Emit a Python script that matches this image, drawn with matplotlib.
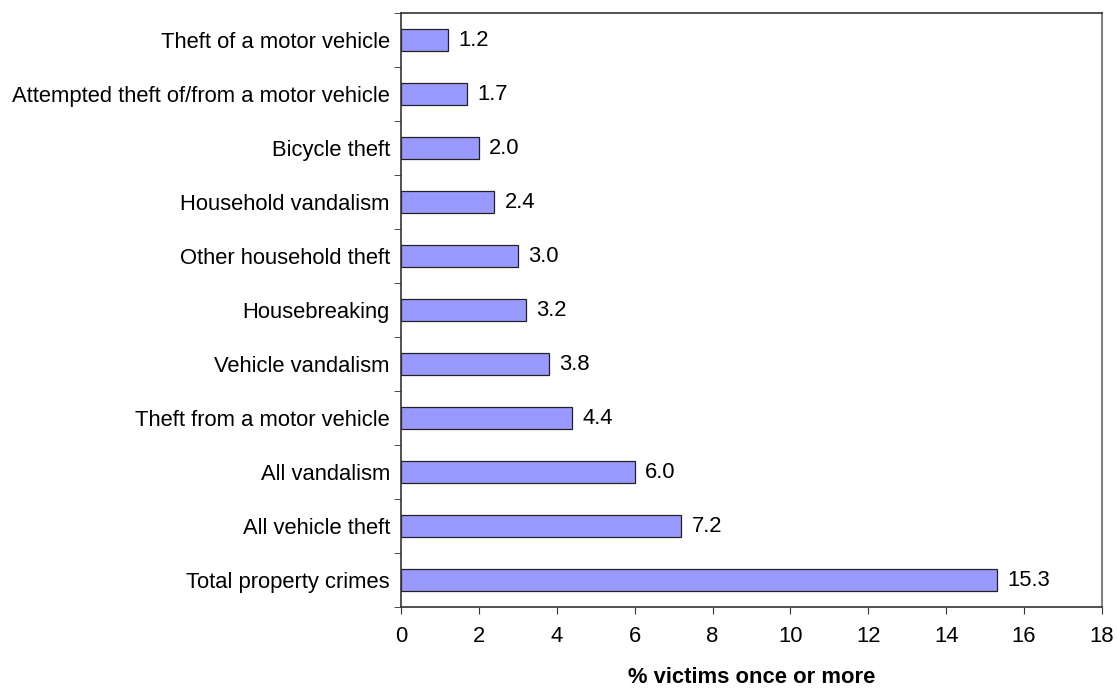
import matplotlib
matplotlib.use("Agg")
import matplotlib.pyplot as plt
import numpy as np

categories = ["Total property crimes", "All vehicle theft", "All vandalism",
              "Theft from a motor vehicle", "Vehicle vandalism", "Housebreaking",
              "Other household theft", "Household vandalism", "Bicycle theft",
              "Attempted theft of/from a motor vehicle", "Theft of a motor vehicle"]
values = [15.3, 7.2, 6.0, 4.4, 3.8, 3.2, 3.0, 2.4, 2.0, 1.7, 1.2]
xticks = [0, 2, 4, 6, 8, 10, 12, 14, 16, 18]

plt.rcParams['font.family'] = ['Liberation Sans', 'DejaVu Sans']
fs = 15.8
fig = plt.figure(figsize=(11.17, 6.89), dpi=100)
ax = fig.add_axes([401/1117, 1 - 607/689, (1102-401)/1117, (607-13)/689])

y = np.arange(len(categories))
ax.barh(y, values, height=0.41, color='#9999ff', edgecolor='#222222', linewidth=0.9)
for yi, v in zip(y, values):
    ax.annotate(f"{v:.1f}", xy=(v, yi), xytext=(7.5, 0), textcoords='offset points',
                va='center', ha='left', fontsize=fs)

ax.set_xlim(0, 18)
ax.set_ylim(-0.5, len(categories) - 0.5)
ax.set_xticks(xticks)
ax.set_xticklabels([str(t) for t in xticks], fontsize=fs)
ax.set_yticks(y)
ax.set_yticklabels(categories, fontsize=fs)
ax.tick_params(axis='y', length=0, pad=8)
ax.set_yticks(np.arange(-0.5, len(categories), 1), minor=True)
ax.tick_params(axis='y', which='minor', length=5, direction='out', color='#333333')
ax.tick_params(axis='x', length=5, direction='out', pad=9, color='#333333')
ax.set_xlabel("% victims once or more", fontsize=fs, fontweight='bold', labelpad=14)

for s in ['left', 'bottom', 'top']:
    ax.spines[s].set_color('#333333')
    ax.spines[s].set_linewidth(1.2)
ax.spines['right'].set_color('#808080')
ax.spines['right'].set_linewidth(1.5)

fig.savefig("out.png", dpi=100)
